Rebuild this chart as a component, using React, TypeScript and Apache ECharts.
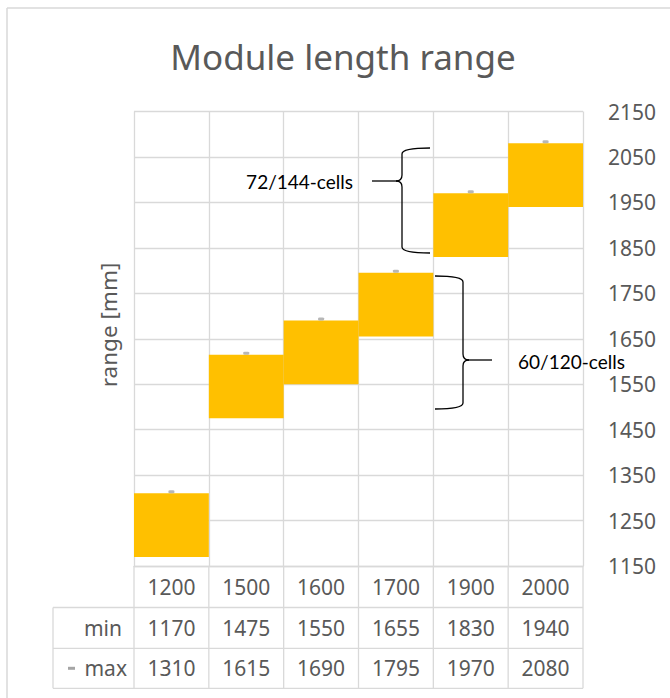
import React, { useEffect, useRef } from "react";
import * as echarts from "echarts";

const categories = ["1200", "1500", "1600", "1700", "1900", "2000"];
const minValues = [1170, 1475, 1550, 1655, 1830, 1940];
const maxValues = [1310, 1615, 1690, 1795, 1970, 2080];
const AXIS_MIN = 1150;
const AXIS_MAX = 2150;
const AXIS_STEP = 100;
const rowLabels = ["min", "max"];
const annotations = [
  { text: "72/144-cells", from: 1830, to: 2060 },
  { text: "60/120-cells", from: 1500, to: 1795 },
];

const FONT = "'Noto Sans', 'Open Sans', sans-serif";
const NOTE_FONT = "Lato, 'Liberation Sans', sans-serif";
const GREY_TEXT = "#595959";
const GRID_COLOR = "#d9d9d9";
const GRID = { left: 134, top: 111.5, width: 449, height: 454.5 };
const ROW_Y = [566, 607.5, 648.3, 688.3];

function brace(xArm: number, xSpine: number, xTip: number, yTop: number, yMid: number, yBot: number) {
  const d = xTip < xSpine ? -1 : 1;
  const r = 6;
  const s = { stroke: "#000", lineWidth: 1.3, fill: null };
  return [
    { type: "bezierCurve", shape: { x1: xArm, y1: yTop, x2: xSpine, y2: yTop + r, cpx1: xSpine, cpy1: yTop }, style: s },
    { type: "line", shape: { x1: xSpine, y1: yTop + r, x2: xSpine, y2: yMid - r }, style: s },
    { type: "bezierCurve", shape: { x1: xSpine, y1: yMid - r, x2: xSpine + d * r, y2: yMid, cpx1: xSpine, cpy1: yMid }, style: s },
    { type: "line", shape: { x1: xSpine + d * r, y1: yMid, x2: xTip, y2: yMid }, style: s },
    { type: "bezierCurve", shape: { x1: xSpine + d * r, y1: yMid, x2: xSpine, y2: yMid + r, cpx1: xSpine, cpy1: yMid }, style: s },
    { type: "line", shape: { x1: xSpine, y1: yMid + r, x2: xSpine, y2: yBot - r }, style: s },
    { type: "bezierCurve", shape: { x1: xSpine, y1: yBot - r, x2: xArm, y2: yBot, cpx1: xSpine, cpy1: yBot }, style: s },
  ];
}

export default function App() {
  const ref = useRef<HTMLDivElement>(null);
  useEffect(() => {
    if (!ref.current) return;
    const chart = echarts.init(ref.current, null, { renderer: "svg" });
    const option: any = {
      animation: false,
      backgroundColor: "#fff",
      grid: { ...GRID },
      xAxis: {
        type: "category",
        data: categories,
        boundaryGap: true,
        axisLine: { show: true, lineStyle: { color: GRID_COLOR, width: 1.3 } },
        axisTick: { show: false },
        splitLine: { show: true, lineStyle: { color: GRID_COLOR, width: 1.3 } },
        axisLabel: { color: GREY_TEXT, fontSize: 21, fontFamily: FONT, margin: 10 },
      },
      yAxis: {
        type: "value",
        position: "right",
        min: 0,
        max: AXIS_MAX - AXIS_MIN,
        interval: AXIS_STEP,
        axisLine: { show: false },
        axisTick: { show: false },
        splitLine: { show: true, lineStyle: { color: GRID_COLOR, width: 1.3 } },
        axisLabel: {
          color: GREY_TEXT,
          fontSize: 21,
          fontFamily: FONT,
          margin: 25,
          formatter: (v: number) => String(v + AXIS_MIN),
        },
      },
      series: [
        {
          name: "min",
          type: "bar",
          stack: "range",
          barWidth: "100%",
          barCategoryGap: 0,
          itemStyle: { color: "transparent" },
          data: minValues.map((v) => v - AXIS_MIN),
        },
        {
          name: "range",
          type: "bar",
          stack: "range",
          barWidth: "100%",
          itemStyle: { color: "#FFC000" },
          data: maxValues.map((v, i) => v - minValues[i]),
        },
        {
          name: "max",
          type: "scatter",
          symbol: "roundRect",
          symbolSize: [6, 3],
          symbolOffset: [0, -1.5],
          itemStyle: { color: "#a5a5a5" },
          z: 5,
          data: maxValues.map((v) => v - AXIS_MIN),
        },
      ],
    };
    chart.setOption(option);

    const centers = categories.map((c) => chart.convertToPixel({ xAxisIndex: 0 }, c) as number);
    const band = centers.length > 1 ? centers[1] - centers[0] : GRID.width;
    const bounds = [centers[0] - band / 2, ...centers.map((c) => c + band / 2)];
    const leftEdge = 53;
    const lineStyle = { stroke: GRID_COLOR, lineWidth: 1.3 };
    const g: any[] = [];

    // outer frame
    g.push({ type: "line", shape: { x1: 7, y1: 8, x2: 670, y2: 8 }, style: { stroke: GRID_COLOR, lineWidth: 1.5 } });
    g.push({ type: "line", shape: { x1: 7, y1: 8, x2: 7, y2: 698 }, style: { stroke: GRID_COLOR, lineWidth: 1.5 } });

    // title
    g.push({
      type: "text",
      x: 343,
      y: 56,
      style: { text: "Module length range", fontSize: 35, fontFamily: FONT, fill: GREY_TEXT, textAlign: "center", textVerticalAlign: "middle" },
    });
    // y axis name
    g.push({
      type: "text",
      x: 108,
      y: 325,
      rotation: Math.PI / 2,
      style: { text: "range [mm]", fontSize: 22.5, fontFamily: FONT, fill: GREY_TEXT, textAlign: "center", textVerticalAlign: "middle" },
    });

    // data table lines
    bounds.forEach((x) => {
      g.push({ type: "line", shape: { x1: x, y1: ROW_Y[0], x2: x, y2: ROW_Y[3] }, style: lineStyle });
    });
    g.push({ type: "line", shape: { x1: leftEdge, y1: ROW_Y[1], x2: leftEdge, y2: ROW_Y[3] }, style: lineStyle });
    [ROW_Y[1], ROW_Y[2], ROW_Y[3]].forEach((y) => {
      g.push({ type: "line", shape: { x1: leftEdge, y1: y, x2: bounds[bounds.length - 1], y2: y }, style: lineStyle });
    });

    const rows = [minValues, maxValues];
    rows.forEach((vals, r) => {
      const yc = (ROW_Y[r + 1] + ROW_Y[r + 2]) / 2;
      vals.forEach((v, i) => {
        g.push({
          type: "text",
          x: centers[i],
          y: yc,
          style: { text: String(v), fontSize: 21, fontFamily: FONT, fill: GREY_TEXT, textAlign: "center", textVerticalAlign: "middle" },
        });
      });
      g.push({
        type: "text",
        x: r === 0 ? 122 : 127,
        y: yc,
        style: { text: rowLabels[r], fontSize: 21, fontFamily: FONT, fill: GREY_TEXT, textAlign: "right", textVerticalAlign: "middle" },
      });
    });
    // legend key for max
    const ycMax = (ROW_Y[2] + ROW_Y[3]) / 2;
    g.push({ type: "line", shape: { x1: 68, y1: ycMax, x2: 75, y2: ycMax }, style: { stroke: "#a5a5a5", lineWidth: 3 } });

    // annotations with braces
    g.push(...brace(430, 402, 372, 148, 181, 253));
    g.push({
      type: "text",
      x: 353,
      y: 181,
      style: { text: annotations[0].text, fontSize: 19, fontFamily: NOTE_FONT, fill: "#000", textAlign: "right", textVerticalAlign: "middle" },
    });
    g.push(...brace(435, 463, 492, 276, 360, 409));
    g.push({
      type: "text",
      x: 518,
      y: 361,
      style: { text: annotations[1].text, fontSize: 19, fontFamily: NOTE_FONT, fill: "#000", textAlign: "left", textVerticalAlign: "middle" },
    });

    chart.setOption({ graphic: g });
    return () => chart.dispose();
  }, []);
  return <div ref={ref} style={{ position: "fixed", left: 0, top: 0, width: 670, height: 698 }} />;
}
